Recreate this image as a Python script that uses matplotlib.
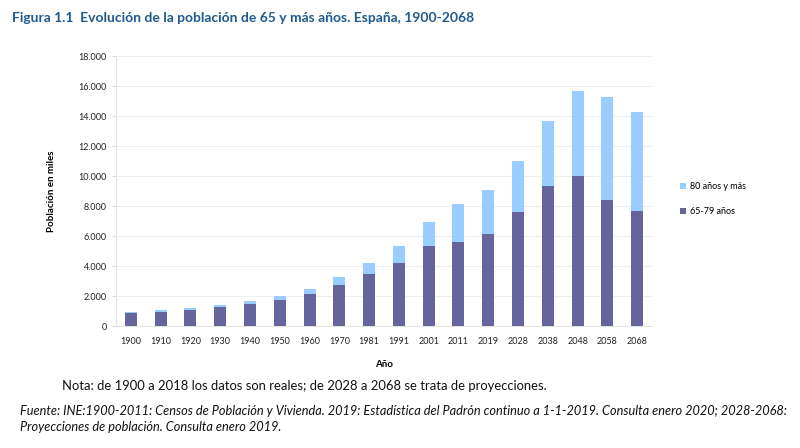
import numpy as np
import matplotlib.pyplot as plt
from matplotlib.ticker import FuncFormatter

plt.rcParams['font.family'] = ['Lato', 'DejaVu Sans']

# data (thousands of people)
years = ["1900", "1910", "1920", "1930", "1940", "1950", "1960", "1970", "1981",
         "1991", "2001", "2011", "2019", "2028", "2038", "2048", "2058", "2068"]
age_65_79 = [850, 955, 1045, 1245, 1465, 1735, 2110, 2710, 3465,
             4200, 5355, 5620, 6155, 7620, 9355, 9980, 8400, 7645]
age_80_plus = [100, 135, 155, 155, 200, 265, 380, 555, 755,
               1155, 1600, 2490, 2890, 3360, 4290, 5665, 6845, 6645]

dark = "#65659b"
light = "#99ccff"

fig = plt.figure(figsize=(8, 4.48), dpi=100)
ax = fig.add_axes([0.145, 0.2723, 0.67, 0.6027])

x = np.arange(len(years))
b1 = ax.bar(x, age_65_79, width=0.4, color=dark, zorder=3)
b2 = ax.bar(x, age_80_plus, bottom=age_65_79, width=0.4, color=light, zorder=3)

ax.set_xlim(-0.5, len(years) - 0.5)
ax.set_ylim(0, 18000)
ax.set_yticks(np.arange(0, 18001, 2000))
ax.yaxis.set_major_formatter(FuncFormatter(lambda v, p: f"{int(v):,}".replace(",", ".")))
ax.set_xticks(x)
ax.set_xticklabels(years)
ax.tick_params(axis='both', labelsize=6.5, colors="#d9d9d9", labelcolor="#222222", length=3)
ax.tick_params(axis='x', length=0, pad=8)
ax.grid(axis='y', color="#eeeeee", linewidth=0.8, zorder=0)
for s in ["top", "right"]:
    ax.spines[s].set_visible(False)
ax.spines["left"].set_color("#e3e3e3")
ax.spines["bottom"].set_color("#e3e3e3")

ax.set_ylabel("Población en miles", fontsize=7, fontweight="bold", labelpad=16)
ax.set_xlabel("Año", fontsize=7, fontweight="bold", labelpad=10)

fig.legend([b2, b1], ["80 años y más", "65-79 años"], loc="center left",
           bbox_to_anchor=(0.84, 0.555), frameon=False, fontsize=6.5,
           handlelength=0.7, handleheight=0.7, handletextpad=0.4, labelspacing=1.8)

fig.text(0.015, 0.96, "Figura 1.1  Evolución de la población de 65 y más años. España, 1900-2068",
         fontsize=10, fontweight="bold", color="#1f5a8c", va="center")
fig.text(0.078, 0.138, "Nota: de 1900 a 2018 los datos son reales; de 2028 a 2068 se trata de proyecciones.",
         fontsize=9.35, color="#111111", va="center")
fig.text(0.025, 0.082, "Fuente: INE:1900-2011: Censos de Población y Vivienda. 2019: Estadística del Padrón "
         "continuo a 1-1-2019. Consulta enero 2020; 2028-2068:",
         fontsize=9.2, style="italic", color="#111111", va="center")
fig.text(0.025, 0.046, "Proyecciones de población. Consulta enero 2019.",
         fontsize=9.2, style="italic", color="#111111", va="center")

fig.savefig("out.png", dpi=100)
